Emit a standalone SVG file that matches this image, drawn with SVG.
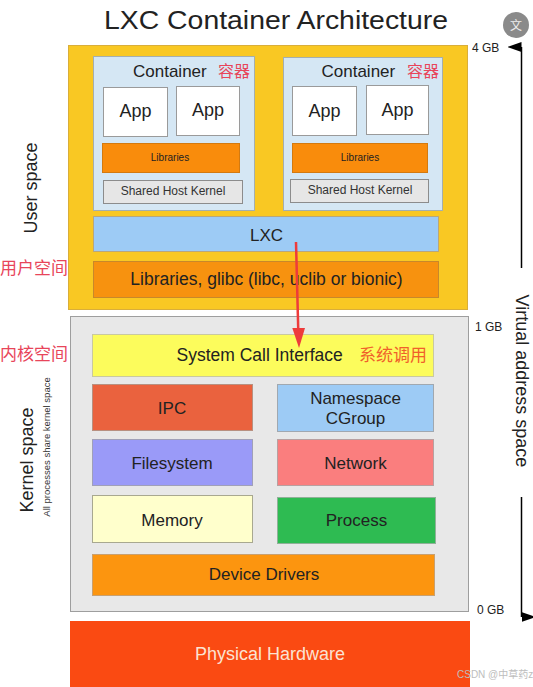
<svg xmlns="http://www.w3.org/2000/svg" width="533" height="687" viewBox="0 0 533 687">
<style>
  text { font-family: "Liberation Sans", Arial, "Noto Sans CJK SC", sans-serif; fill: #222; }
  .c { text-anchor: middle; }
  .cjk { font-family: "Noto Sans CJK SC", "Liberation Sans", sans-serif; }
  .red { fill: #E8455A; }
  .orange { fill: #F0602A; }
  .dim { fill: #333; }
  .light { fill: #FBE3D2; }
  .wm { fill: #BDBDBD; }
  .icon { fill: #EDEDED; }
</style>
<defs>
  <marker id="blackHead" viewBox="0 0 10 14" refX="5" refY="14" markerWidth="10" markerHeight="14" markerUnits="userSpaceOnUse" orient="auto-start-reverse">
    <path d="M0,14 L5,0 L10,14 Z" fill="#000"/>
  </marker>
</defs>
<rect width="533" height="687" fill="#fff"/>

<text x="276" y="29" class="c" font-size="26" textLength="344" lengthAdjust="spacingAndGlyphs">LXC Container Architecture</text>

<g id="user-space">
  <rect x="68.5" y="45.5" width="399" height="264" fill="#F9C823" stroke="#D9AE3A"/>
</g>

<g id="container1">
  <rect x="93.5" y="56.5" width="161" height="154" fill="#D5E7F4" stroke="#A4AFAF"/>
  <text x="133" y="77" font-size="17">Container</text>
  <text x="218" y="77" font-size="16" class="cjk red">容器</text>
  <g id="c1-app1"><rect x="103.5" y="87.5" width="64" height="49" fill="#fff" stroke="#9A9A9A"/><text x="135.5" y="117" class="c" font-size="18">App</text></g>
  <g id="c1-app2"><rect x="176.5" y="86.5" width="63" height="49" fill="#fff" stroke="#9A9A9A"/><text x="208" y="116" class="c" font-size="18">App</text></g>
  <g id="c1-libs"><rect x="102.5" y="143.5" width="137" height="29" fill="#F98C0C" stroke="#D37A10"/><text x="170" y="161" class="c" font-size="10">Libraries</text></g>
  <g id="c1-shk"><rect x="103.5" y="180.5" width="139" height="23" fill="#E6E6E6" stroke="#8C8C8C"/><text x="173" y="195" class="c dim" font-size="12">Shared Host Kernel</text></g>
</g>

<g id="container2">
  <rect x="283.5" y="57.5" width="159" height="153" fill="#D5E7F4" stroke="#A4AFAF"/>
  <text x="321.5" y="77" font-size="17">Container</text>
  <text x="407" y="77" font-size="16" class="cjk red">容器</text>
  <g id="c2-app1"><rect x="292.5" y="86.5" width="64" height="49" fill="#fff" stroke="#9A9A9A"/><text x="324.5" y="116.5" class="c" font-size="18">App</text></g>
  <g id="c2-app2"><rect x="366.5" y="85.5" width="62" height="49" fill="#fff" stroke="#9A9A9A"/><text x="397.5" y="116" class="c" font-size="18">App</text></g>
  <g id="c2-libs"><rect x="292.5" y="143.5" width="135" height="29" fill="#F98C0C" stroke="#D37A10"/><text x="360" y="161" class="c" font-size="10">Libraries</text></g>
  <g id="c2-shk"><rect x="290.5" y="179.5" width="138" height="23" fill="#E6E6E6" stroke="#8C8C8C"/><text x="360" y="194" class="c dim" font-size="12">Shared Host Kernel</text></g>
</g>

<g id="lxc">
  <rect x="93.5" y="216.5" width="345" height="35" fill="#9DCBF5" stroke="#B9A77A"/>
  <text x="266.5" y="241" class="c" font-size="17">LXC</text>
</g>

<g id="glibc">
  <rect x="93.5" y="261.5" width="345" height="36" fill="#F7920F" stroke="#C8882A"/>
  <text x="266.5" y="285" class="c" font-size="17.5">Libraries, glibc (libc, uclib or bionic)</text>
</g>

<g id="kernel-space">
  <rect x="70.5" y="316.5" width="398" height="295" fill="#E8E8E8" stroke="#9E9E9E"/>
</g>

<g id="syscall">
  <rect x="92.5" y="334.5" width="341" height="42" fill="#FCFC5C" stroke="#C9C9A0"/>
  <text x="176.5" y="361" font-size="17.5">System Call Interface</text>
  <text x="359" y="361" font-size="17" class="cjk orange">系统调用</text>
</g>

<g id="ipc">
  <rect x="92.5" y="384.5" width="160" height="46" fill="#EA623E" stroke="#B89080"/>
  <text x="172" y="414" class="c" font-size="17">IPC</text>
</g>
<g id="namespace">
  <rect x="277.5" y="384.5" width="156" height="47" fill="#9DCBF5" stroke="#A0A8B0"/>
  <text x="355.5" y="404" class="c" font-size="17">Namespace</text>
  <text x="355.5" y="424" class="c" font-size="17">CGroup</text>
</g>
<g id="filesystem">
  <rect x="92.5" y="439.5" width="160" height="46" fill="#9A9AF8" stroke="#A0A0B8"/>
  <text x="172" y="468.5" class="c" font-size="17">Filesystem</text>
</g>
<g id="network">
  <rect x="277.5" y="439.5" width="156" height="46" fill="#FA7E7E" stroke="#B8A0A0"/>
  <text x="355.5" y="468.5" class="c" font-size="17">Network</text>
</g>
<g id="memory">
  <rect x="92.5" y="495.5" width="160" height="47" fill="#FFFFCC" stroke="#A8A890"/>
  <text x="172" y="525.5" class="c" font-size="17">Memory</text>
</g>
<g id="process">
  <rect x="277.5" y="497.5" width="158" height="46" fill="#2EBB52" stroke="#90B098"/>
  <text x="356.5" y="526" class="c" font-size="17">Process</text>
</g>
<g id="device-drivers">
  <rect x="92.5" y="554.5" width="342" height="41" fill="#FC950F" stroke="#C8A070"/>
  <text x="264" y="579.5" class="c" font-size="17">Device Drivers</text>
</g>

<g id="hardware">
  <rect x="70" y="621" width="400" height="66" fill="#FA4A12"/>
  <text x="270" y="660" class="c light" font-size="18">Physical Hardware</text>
</g>

<g id="labels">
  <text transform="translate(37,188) rotate(-90)" class="c" font-size="18">User space</text>
  <text x="0" y="274" font-size="17" class="cjk red">用户空间</text>
  <text x="0" y="360" font-size="17" class="cjk red">内核空间</text>
  <text transform="translate(33,460) rotate(-90)" class="c" font-size="18">Kernel space</text>
  <text transform="translate(50,447) rotate(-90)" class="c dim" font-size="9.5">All processes share kernel space</text>
  <text x="472" y="52" font-size="12">4 GB</text>
  <text x="475" y="331" font-size="12">1 GB</text>
  <text x="477" y="614" font-size="12">0 GB</text>
  <text transform="translate(516,381) rotate(90)" class="c" font-size="18">Virtual address space</text>
  <text x="457" y="678" font-size="10" class="wm">CSDN @中草药z</text>
</g>

<g id="connectors">
  <line x1="521.5" y1="268" x2="521.5" y2="47" stroke="#000" stroke-width="1.5" marker-end="url(#blackHead)"/>
  <line x1="521.5" y1="497" x2="521.5" y2="617" stroke="#000" stroke-width="1.5" marker-end="url(#blackHead)"/>
  <line x1="296" y1="242" x2="298.3" y2="332" stroke="#EE3B3B" stroke-width="2.5"/>
  <path d="M292.3,328 L305,328 L299,348 Z" fill="#EE3B3B"/>
</g>

<g id="translate-icon">
  <circle cx="516" cy="25" r="13" fill="#8A8A8A"/>
  <text x="516" y="30" class="c cjk icon" font-size="12">文</text>
</g>
</svg>
